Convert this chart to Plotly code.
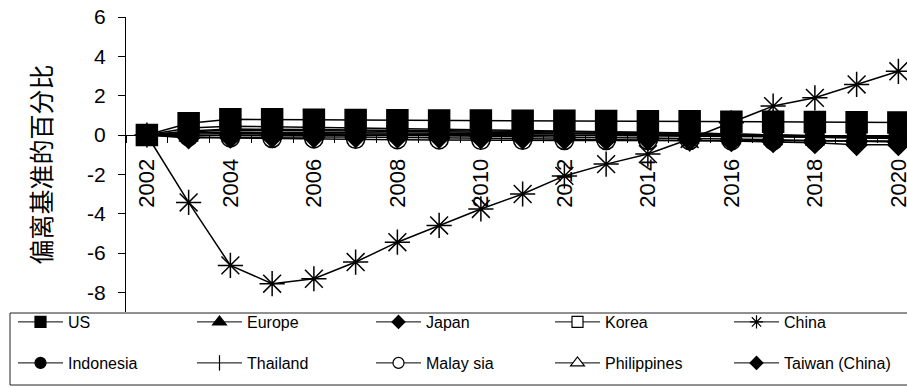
import plotly.graph_objects as go

# Years on the x axis and the labelled subset
years = list(range(2002, 2021))
label_years = list(range(2002, 2021, 2))
boundary_ticks = [y - 0.5 for y in range(2002, 2022)]

# Deviation from baseline (%) for each economy
us = [0, 0.6, 0.8, 0.8, 0.78, 0.76, 0.75, 0.74, 0.74, 0.72, 0.72, 0.71, 0.7, 0.7, 0.68, 0.67, 0.66, 0.65, 0.64]
europe = [0, 0.35, 0.45, 0.42, 0.38, 0.35, 0.32, 0.3, 0.27, 0.24, 0.21, 0.18, 0.15, 0.1, 0.05, 0.0, -0.05, -0.08, -0.1]
japan = [0, -0.15, -0.12, -0.1, -0.1, -0.1, -0.12, -0.13, -0.15, -0.17, -0.19, -0.21, -0.23, -0.26, -0.3, -0.35, -0.4, -0.5, -0.5]
korea = [0, 0.15, 0.25, 0.25, 0.22, 0.2, 0.18, 0.17, 0.15, 0.14, 0.12, 0.1, 0.08, 0.05, 0.02, -0.02, -0.05, -0.08, -0.1]
china = [0, -3.43, -6.63, -7.56, -7.31, -6.46, -5.45, -4.6, -3.76, -3.0, -2.08, -1.48, -0.97, -0.2, 0.62, 1.47, 1.89, 2.57, 3.24]
indonesia = [0, 0.1, 0.15, 0.15, 0.13, 0.12, 0.1, 0.1, 0.08, 0.07, 0.06, 0.05, 0.03, 0.0, -0.03, -0.08, -0.12, -0.15, -0.18]
thailand = [0, 0.2, 0.3, 0.3, 0.28, 0.26, 0.24, 0.22, 0.2, 0.19, 0.18, 0.16, 0.14, 0.1, 0.05, 0.0, -0.05, -0.1, -0.12]
malaysia = [0, -0.1, -0.15, -0.18, -0.2, -0.22, -0.24, -0.25, -0.27, -0.27, -0.28, -0.28, -0.28, -0.28, -0.3, -0.3, -0.3, -0.3, -0.3]
philippines = [0, 0.05, 0.08, 0.08, 0.06, 0.05, 0.04, 0.03, 0.02, 0.01, 0.0, -0.02, -0.04, -0.06, -0.08, -0.1, -0.12, -0.14, -0.15]
taiwan = [0, -0.05, 0.0, 0.02, 0.02, 0.0, -0.02, -0.03, -0.05, -0.07, -0.09, -0.11, -0.13, -0.16, -0.2, -0.24, -0.28, -0.32, -0.35]

y_ticks = list(range(-8, 7, 2))
y_tick_text = [str(v) for v in y_ticks]
y_title = "偏离基准的百分比"

# (name, values, symbol, size, fill, legend, rank) -- hollow markers drawn first
series = [
    ("Korea", korea, "square", 18, "white", "legend", 4),
    ("Malay sia", malaysia, "circle", 18, "white", "legend2", 8),
    ("Philippines", philippines, "triangle-up", 18, "white", "legend2", 9),
    ("US", us, "square", 21, "black", "legend", 1),
    ("Europe", europe, "triangle-up", 18, "black", "legend", 2),
    ("Japan", japan, "diamond", 16, "black", "legend", 3),
    ("China", china, "asterisk-open", 21, "black", "legend", 5),
    ("Indonesia", indonesia, "circle", 18, "black", "legend2", 6),
    ("Thailand", thailand, "line-ns-open", 14, "black", "legend2", 7),
    ("Taiwan (China)", taiwan, "diamond", 16, "black", "legend2", 10),
]

# legend swatch marker size per symbol
swatch_size = {"square": 11, "triangle-up": 12, "diamond": 10, "circle": 11,
               "asterisk-open": 11, "line-ns-open": 11}

fig = go.Figure()
for name, vals, sym, size, fill, leg, rank in series:
    fig.add_trace(go.Scatter(
        x=years, y=vals, name=name, mode="lines+markers",
        line=dict(color="black", width=1.5),
        marker=dict(symbol=sym, size=size, color=fill,
                    line=dict(color="black", width=1.5)),
        showlegend=False, cliponaxis=False,
    ))

# legend entries with small swatches
for name, vals, sym, size, fill, leg, rank in series:
    fig.add_trace(go.Scatter(
        x=[None], y=[None], name=name, mode="lines+markers",
        line=dict(color="black", width=1),
        marker=dict(symbol=sym, size=swatch_size[sym], color=fill,
                    line=dict(color="black", width=1.2)),
        legend=leg, legendrank=rank, showlegend=True,
    ))

W, H = 907, 387
L, R, T, B = 126, 0, 17, 75
pw, ph = W - L - R, H - T - B
px_per_year = 41.75
x0 = 2001.5
x1 = x0 + pw / px_per_year
y0, y1 = -9, 6


def px_to_paper_x(px):
    return (px - L) / pw


def px_to_paper_y(py):
    return (H - B - py) / ph


legend_font = dict(family="Liberation Sans, Arial", size=16, color="black")
common_legend = dict(
    orientation="h", xanchor="left", yanchor="middle",
    font=legend_font, bgcolor="rgba(0,0,0,0)", borderwidth=0,
    itemwidth=45, entrywidth=119, entrywidthmode="pixels", itemsizing="trace",
)

fig.update_layout(
    width=W, height=H,
    margin=dict(l=L, r=R, t=T, b=B, autoexpand=False),
    paper_bgcolor="white", plot_bgcolor="white",
    showlegend=True,
    legend=dict(x=px_to_paper_x(13), y=px_to_paper_y(322), **common_legend),
    legend2=dict(x=px_to_paper_x(13), y=px_to_paper_y(363), **common_legend),
    xaxis=dict(
        range=[x0, x1], anchor="free", position=(0 - y0) / (y1 - y0),
        showgrid=False, zeroline=False,
        showline=True, linecolor="black", linewidth=1,
        tickmode="array", tickvals=label_years, ticktext=[str(v) for v in label_years],
        ticks="", tickangle=-90, ticklabelstandoff=14, ticklabeloverflow="allow",
        tickfont=dict(family="Liberation Sans, Arial", size=22, color="black"),
        minor=dict(tickmode="array", tickvals=boundary_ticks, ticks="outside",
                   ticklen=7, tickcolor="black", tickwidth=1, showgrid=False),
    ),
    yaxis=dict(
        range=[y0, y1], showgrid=False, zeroline=False,
        showline=True, linecolor="black", linewidth=1,
        tickmode="array", tickvals=y_ticks, ticktext=y_tick_text,
        ticks="outside", ticklen=7,
        tickcolor="black", ticklabelstandoff=8,
        tickfont=dict(family="Liberation Sans, Arial", size=21, color="black"),
        title=dict(text=y_title, standoff=28,
                   font=dict(family="Noto Sans CJK SC", size=25, color="black")),
    ),
    shapes=[dict(
        type="rect", xref="paper", yref="paper",
        x0=px_to_paper_x(10), x1=1.05,
        y0=px_to_paper_y(385), y1=px_to_paper_y(313),
        line=dict(color="#222222", width=1), fillcolor="rgba(0,0,0,0)",
        layer="below",
    )],
)

fig.write_html("out.html")
